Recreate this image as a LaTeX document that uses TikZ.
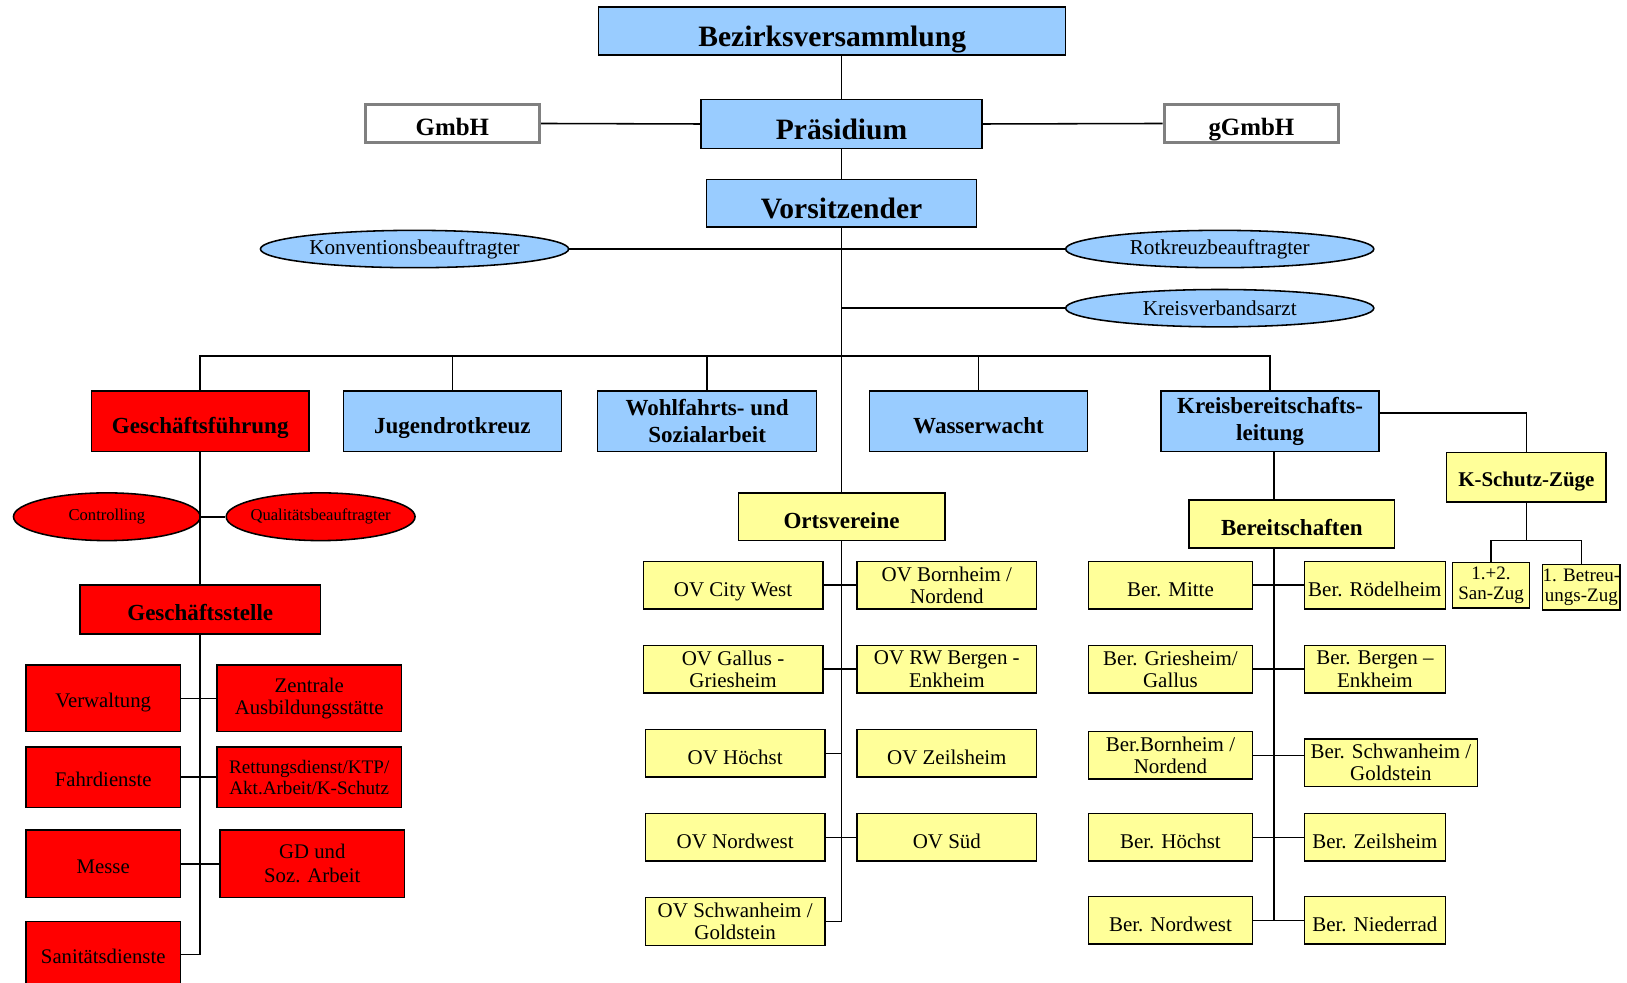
\documentclass[tikz,border=0pt]{standalone}
\usepackage{fontspec}
\setmainfont{Liberation Serif}
\usepackage{tikz}
\usetikzlibrary{shapes.geometric}
\definecolor{orgblau}{HTML}{99CCFF}
\definecolor{orggelb}{HTML}{FFFF99}
\definecolor{orgrot}{HTML}{FF0000}
\definecolor{orggrau}{HTML}{808080}

\begin{document}
\begin{tikzpicture}[x=1pt, y=-1pt,
        every node/.append style={inner sep=0pt, align=center}]
      \tikzstyle{kasten} = [rectangle, draw=black, line width=1.5pt]
      \tikzstyle{gremium} = [kasten, fill=orgblau, font=\bfseries\fontsize{28.5}{32}\selectfont, text height=30pt, text depth=0pt]
      \tikzstyle{firma} = [rectangle, draw=orggrau, line width=3pt, fill=white, minimum width=168pt, minimum height=36pt, font=\bfseries\fontsize{24}{28}\selectfont, text height=24pt, text depth=0pt]
      \tikzstyle{beauftragt} = [ellipse, draw=black, line width=1.5pt, fill=orgblau, minimum width=297pt, minimum height=36pt, font=\fontsize{20.4}{24}\selectfont]
      \tikzstyle{ressort} = [kasten, minimum width=210pt, minimum height=58pt, font=\bfseries\fontsize{22.2}{26}\selectfont, text height=24pt, text depth=0pt]
      \tikzstyle{zweizeilig} = [text height={}, text depth={}]
      \tikzstyle{einheit} = [kasten, fill=orggelb, minimum height=46pt, font=\fontsize{20.2}{21.5}\selectfont, text height=21.5pt, text depth=0pt]
      \tikzstyle{fett} = [font=\bfseries\fontsize{22.2}{26}\selectfont, text height=22pt]
      \tikzstyle{ov} = [einheit, minimum width=173pt]
      \tikzstyle{berl} = [einheit, minimum width=158pt]
      \tikzstyle{berr} = [einheit, minimum width=136pt]
      \tikzstyle{stelle} = [kasten, fill=orgrot, font=\fontsize{20}{21}\selectfont, text height=18pt, text depth=0pt]
      \tikzstyle{stab} = [ellipse, draw=black, line width=1.5pt, fill=orgrot, minimum height=46pt, font=\fontsize{16}{19}\selectfont]
      \tikzstyle{linie} = [draw=black, line width=1.5pt]
      \useasboundingbox (0,0) rectangle (1568,946.4);

      % Leitung
      \node[gremium, minimum width=450pt, minimum height=46pt] (Bezirk) at (802,30) {Bezirksversammlung};
      \node[firma] (GmbH) at (436,119) {GmbH};
      \node[gremium, minimum width=271pt, minimum height=47pt] (Praesidium) at (811,119.5) {Präsidium};
      \node[firma] (gGmbH) at (1206,119) {gGmbH};
      \node[gremium, minimum width=260pt, minimum height=46pt] (Vorsitz) at (811,196) {Vorsitzender};
      \node[beauftragt] (Konvention) at (399.5,240) {Konventionsbeauftragter};
      \node[beauftragt] (Rotkreuz) at (1175.5,240) {Rotkreuzbeauftragter};
      \node[beauftragt] (Arzt) at (1175.5,297) {Kreisverbandsarzt};

      % Ressorts
      \node[ressort, fill=orgrot] (GF) at (193,406) {Geschäftsführung};
      \node[ressort, fill=orgblau] (JRK) at (436,406) {Jugendrotkreuz};
      \node[ressort, zweizeilig, fill=orgblau, minimum width=211pt] (Wohlfahrt) at (681.5,406) {Wohlfahrts- und\\Sozialarbeit};
      \node[ressort, fill=orgblau] (Wasserwacht) at (943,406) {Wasserwacht};
      \node[ressort, zweizeilig, fill=orgblau] (KBL) at (1224,406) {Kreisbereitschafts-\\leitung};

      % K-Schutz
      \node[einheit, font=\bfseries\fontsize{20.2}{24}\selectfont, text height=18pt, minimum width=154pt, minimum height=48pt] (KSchutz) at (1471,460) {K-Schutz-Züge};
      \node[einheit, zweizeilig, font=\fontsize{18.3}{20}\selectfont, minimum width=74pt, minimum height=44pt] (SanZug) at (1437,564) {1.+2.\\San-Zug};
      \node[einheit, zweizeilig, font=\fontsize{18.3}{20}\selectfont, minimum width=74pt, minimum height=44pt] (BtZug) at (1524,566) {1. Betreu-\\ungs-Zug};

      % Geschaeftsstelle
      \node[stab, minimum width=180pt] (Controlling) at (103,498) {Controlling};
      \node[stab, inner xsep=-4pt, minimum width=182pt] (Quali) at (309,498) {Qualitätsbeauftragter};
      \node[stelle, font=\bfseries\fontsize{22.2}{26}\selectfont, text height=21pt, minimum width=232pt, minimum height=47pt] (GS) at (193,587.5) {Geschäftsstelle};
      \node[stelle, minimum width=149pt, minimum height=64pt] (Verwaltung) at (99.5,673) {Verwaltung};
      \node[stelle, zweizeilig, minimum width=178pt, minimum height=64pt] (Ausbildung) at (298,673) {Zentrale\\Ausbildungsstätte};
      \node[stelle, minimum width=149pt, minimum height=58pt] (Fahrdienste) at (99.5,749) {Fahrdienste};
      \node[stelle, zweizeilig, font=\fontsize{18.4}{20}\selectfont, minimum width=178pt, minimum height=58pt] (Rettung) at (298,749) {Rettungsdienst/KTP/\\Akt.Arbeit/K-Schutz};
      \node[stelle, minimum width=149pt, minimum height=65pt] (Messe) at (99.5,832.5) {Messe};
      \node[stelle, zweizeilig, font=\fontsize{20}{23}\selectfont, minimum width=178pt, minimum height=65pt] (GD) at (301,832.5) {GD und\\Soz. Arbeit};
      \node[stelle, minimum width=149pt, minimum height=64pt] (Sani) at (99.5,920) {Sanitätsdienste};

      % Ortsvereine
      \node[einheit, fett, minimum width=199pt] (Ortsvereine) at (811,498) {Ortsvereine};
      \node[ov] (CityWest) at (706.5,564) {OV City West};
      \node[ov, zweizeilig] (Bornheim) at (912.5,564) {OV Bornheim /\\Nordend};
      \node[ov, zweizeilig] (Gallus) at (706.5,645) {OV Gallus -\\Griesheim};
      \node[ov, zweizeilig] (RWBergen) at (912.5,645) {OV RW Bergen -\\Enkheim};
      \node[ov] (Hoechst) at (708.5,726) {OV Höchst};
      \node[ov] (Zeilsheim) at (912.5,726) {OV Zeilsheim};
      \node[ov] (Nordwest) at (708.5,807) {OV Nordwest};
      \node[ov] (Sued) at (912.5,807) {OV Süd};
      \node[ov, zweizeilig] (Schwanheim) at (708.5,888) {OV Schwanheim /\\Goldstein};

      % Bereitschaften
      \node[einheit, fett, minimum width=198pt] (Bereitschaften) at (1245,505) {Bereitschaften};
      \node[berl] (BerMitte) at (1128,564) {Ber. Mitte};
      \node[berr] (BerRoedelheim) at (1325,564) {Ber. Rödelheim};
      \node[berl, zweizeilig] (BerGriesheim) at (1128,645) {Ber. Griesheim/\\Gallus};
      \node[berr, zweizeilig] (BerBergen) at (1325,645) {Ber. Bergen –\\Enkheim};
      \node[berl, zweizeilig] (BerBornheim) at (1128,728) {Ber.Bornheim /\\Nordend};
      \node[einheit, zweizeilig, minimum width=167pt] (BerSchwanheim) at (1340.5,735) {Ber. Schwanheim /\\Goldstein};
      \node[berl] (BerHoechst) at (1128,807) {Ber. Höchst};
      \node[berr] (BerZeilsheim) at (1325,807) {Ber. Zeilsheim};
      \node[berl] (BerNordwest) at (1128,887) {Ber. Nordwest};
      \node[berr] (BerNiederrad) at (1325,887) {Ber. Niederrad};

      % Verbindungen
      \coordinate (Schiene) at (811,343);
      \coordinate (Strang) at (1228,528);
      \coordinate (Zuege) at (1471,521);
      \draw[linie] (Bezirk.south -| Praesidium.north) -- (Praesidium.north);
      \draw[linie] (Praesidium.south) -- (Vorsitz.north);
      \draw[linie] (GmbH.east) -- (Praesidium.west);
      \draw[linie] (Praesidium.east) -- (gGmbH.west);
      \draw[linie] (Konvention.east) -- (Rotkreuz.west);
      \draw[linie] (Arzt.west) -- (Arzt.west -| Vorsitz.south);
      \draw[linie] (Vorsitz.south) -- (Ortsvereine.north);
      \draw[linie] (GF.north) |- (Schiene) -| (KBL.north);
      \draw[linie] (JRK.north) -- (JRK.north |- Schiene);
      \draw[linie] (Wohlfahrt.north) -- (Wohlfahrt.north |- Schiene);
      \draw[linie] (Wasserwacht.north) -- (Wasserwacht.north |- Schiene);

      \draw[linie] (GF.south) -- (GS.north);
      \draw[linie] (Controlling.east) -- (Quali.west);
      \draw[linie] (GS.south) |- (Sani.east);
      \draw[linie] (Verwaltung.east) -- (Ausbildung.west);
      \draw[linie] (Fahrdienste.east) -- (Rettung.west);
      \draw[linie] (Messe.east) -- (GD.west);

      \draw[linie] (Ortsvereine.south) |- (Schwanheim.east);
      \draw[linie] (CityWest.east) -- (Bornheim.west);
      \draw[linie] (Gallus.east) -- (RWBergen.west);
      \draw[linie] (Hoechst.east) -- (Hoechst.east -| Ortsvereine.south);
      \draw[linie] (Nordwest.east) -- (Sued.west);

      \draw[linie] (Strang |- KBL.south) -- (Strang |- Bereitschaften.north);
      \draw[linie] (Strang) -- (Strang |- BerNordwest.east);
      \draw[linie] (BerMitte.east) -- (BerRoedelheim.west);
      \draw[linie] (BerGriesheim.east) -- (BerBergen.west);
      \draw[linie] (BerBornheim.east) -- (BerBornheim.east -| BerSchwanheim.west);
      \draw[linie] (BerHoechst.east) -- (BerZeilsheim.west);
      \draw[linie] (BerNordwest.east) -- (BerNiederrad.west);

      \draw[linie] ([yshift=8pt]KBL.east) -| (KSchutz.north);
      \draw[linie] (KSchutz.south) -- (Zuege);
      \draw[linie] (SanZug.north) |- (Zuege) -| (BtZug.north);
    \end{tikzpicture}
\end{document}
